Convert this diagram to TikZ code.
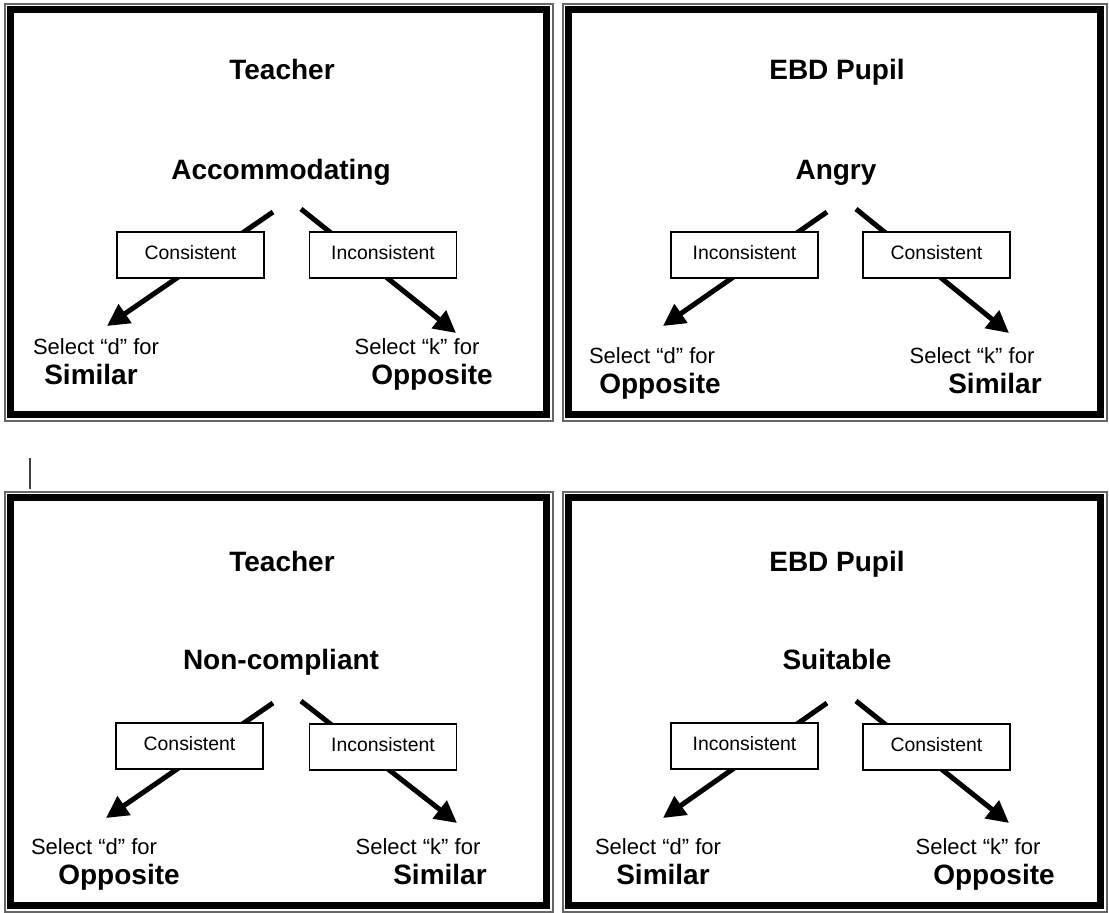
\documentclass[tikz,border=0pt]{standalone}
\usepackage{fontspec}
\setmainfont{Liberation Sans}
\usepackage{tikz}
\usetikzlibrary{arrows.meta}
\tikzset{>={Triangle[length=11pt, width=11pt]}}
\tikzset{frame outer/.style={draw=black!60, line width=1pt}}
\tikzset{frame inner/.style={draw=black, line width=3.5pt}}
\tikzset{heading/.style={font=\fontsize{14}{16}\selectfont\bfseries, text height=10pt, text depth=0pt}}
\tikzset{prompt/.style={font=\fontsize{11}{13}\selectfont, text height=8pt, text depth=0pt}}
\tikzset{answer/.style={font=\fontsize{14}{16}\selectfont\bfseries, text height=10pt, text depth=0pt}}
\tikzset{pointer/.style={->, line width=2.5pt}}
\tikzset{cue box/.style={draw, fill=white, line width=0.75pt, minimum width=73.5pt,
    minimum height=23pt, inner sep=0pt, text height=7pt, text depth=2pt,
    font=\fontsize{9.7}{11}\selectfont}}

\begin{document}
\begin{tikzpicture}[x=0.5pt, y=-0.5pt]
    \useasboundingbox (0,0) rectangle (1109,913);

    \draw[frame outer] (4.5,4) rectangle (552.5,421);
    \draw[frame inner] (10.5,10) rectangle (546.5,415);
    \node[heading] (title-a) at (282,70) {Teacher};
    \node[heading] (mood-a) at (281,170) {Accommodating};
    \coordinate (from-a-l) at (273,212);
    \coordinate (to-a-l) at (107,326);
    \coordinate (from-a-r) at (301,209);
    \coordinate (to-a-r) at (456,333);
    \draw[pointer] (from-a-l) to (to-a-l);
    \draw[pointer] (from-a-r) to (to-a-r);
    \node[cue box] (cue-a-l) at (190.5,255) {Consistent};
    \node[cue box] (cue-a-r) at (383,255) {Inconsistent};
    \node[prompt] (key-a-l) at (96,347) {Select “d” for};
    \node[answer] (ans-a-l) at (91,375) {Similar};
    \node[prompt] (key-a-r) at (417,347) {Select “k” for};
    \node[answer] (ans-a-r) at (432,375) {Opposite};

    \draw[frame outer] (562.5,4) rectangle (1106.5,421);
    \draw[frame inner] (568.5,10) rectangle (1100.5,415);
    \node[heading] (title-b) at (837,70) {EBD Pupil};
    \node[heading] (mood-b) at (836,170) {Angry};
    \coordinate (from-b-l) at (827,212);
    \coordinate (to-b-l) at (663,326);
    \coordinate (from-b-r) at (856,209);
    \coordinate (to-b-r) at (1009,333);
    \draw[pointer] (from-b-l) to (to-b-l);
    \draw[pointer] (from-b-r) to (to-b-r);
    \node[cue box] (cue-b-l) at (744.5,255) {Inconsistent};
    \node[cue box] (cue-b-r) at (936.5,255) {Consistent};
    \node[prompt] (key-b-l) at (652,356) {Select “d” for};
    \node[answer] (ans-b-l) at (660,384) {Opposite};
    \node[prompt] (key-b-r) at (972,356) {Select “k” for};
    \node[answer] (ans-b-r) at (995,384) {Similar};

    \draw[line width=1pt, black!75] (30,458) -- (30,489);

    \draw[frame outer] (4.5,492) rectangle (552.5,912);
    \draw[frame inner] (10.5,498) rectangle (546.5,906);
    \node[heading] (title-c) at (282,562) {Teacher};
    \node[heading] (mood-c) at (281,660) {Non-compliant};
    \coordinate (from-c-l) at (273,703);
    \coordinate (to-c-l) at (106,818);
    \coordinate (from-c-r) at (301,701);
    \coordinate (to-c-r) at (457,823);
    \draw[pointer] (from-c-l) to (to-c-l);
    \draw[pointer] (from-c-r) to (to-c-r);
    \node[cue box] (cue-c-l) at (189.5,746) {Consistent};
    \node[cue box] (cue-c-r) at (383,747) {Inconsistent};
    \node[prompt] (key-c-l) at (94,847) {Select “d” for};
    \node[answer] (ans-c-l) at (119,875) {Opposite};
    \node[prompt] (key-c-r) at (418,847) {Select “k” for};
    \node[answer] (ans-c-r) at (440,875) {Similar};

    \draw[frame outer] (562.5,492) rectangle (1106.5,912);
    \draw[frame inner] (568.5,498) rectangle (1100.5,906);
    \node[heading] (title-d) at (837,562) {EBD Pupil};
    \node[heading] (mood-d) at (837,660) {Suitable};
    \coordinate (from-d-l) at (827,703);
    \coordinate (to-d-l) at (663,818);
    \coordinate (from-d-r) at (856,701);
    \coordinate (to-d-r) at (1009,823);
    \draw[pointer] (from-d-l) to (to-d-l);
    \draw[pointer] (from-d-r) to (to-d-r);
    \node[cue box] (cue-d-l) at (744.5,746) {Inconsistent};
    \node[cue box] (cue-d-r) at (936.5,747) {Consistent};
    \node[prompt] (key-d-l) at (658,847) {Select “d” for};
    \node[answer] (ans-d-l) at (663,875) {Similar};
    \node[prompt] (key-d-r) at (978,847) {Select “k” for};
    \node[answer] (ans-d-r) at (994,875) {Opposite};
\end{tikzpicture}
\end{document}
